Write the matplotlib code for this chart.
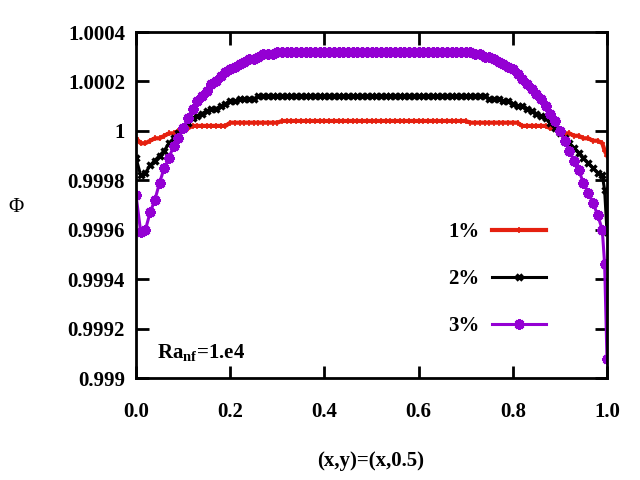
import numpy as np
import matplotlib
matplotlib.use("Agg")
import matplotlib.pyplot as plt

# x positions along the line y=0.5
x = [0.00, 0.01, 0.02, 0.03, 0.04, 0.05, 0.06, 0.07, 0.08, 0.09,
     0.10, 0.11, 0.12, 0.13, 0.14, 0.15, 0.16, 0.17, 0.18, 0.19,
     0.20, 0.21, 0.22, 0.23, 0.24, 0.25, 0.26, 0.27, 0.28, 0.29,
     0.30, 0.31, 0.32, 0.33, 0.34, 0.35, 0.36, 0.37, 0.38, 0.39,
     0.40, 0.41, 0.42, 0.43, 0.44, 0.45, 0.46, 0.47, 0.48, 0.49,
     0.50, 0.51, 0.52, 0.53, 0.54, 0.55, 0.56, 0.57, 0.58, 0.59,
     0.60, 0.61, 0.62, 0.63, 0.64, 0.65, 0.66, 0.67, 0.68, 0.69,
     0.70, 0.71, 0.72, 0.73, 0.74, 0.75, 0.76, 0.77, 0.78, 0.79,
     0.80, 0.81, 0.82, 0.83, 0.84, 0.85, 0.86, 0.87, 0.88, 0.89,
     0.90, 0.91, 0.92, 0.93, 0.94, 0.95, 0.96, 0.97, 0.98, 0.99,
     0.995, 1.00]

# 1 %
phi1 = [0.99997, 0.99995, 0.99995, 0.99996, 0.99997, 0.99997, 0.99998, 0.99999, 0.99999, 1.00000,
        1.00000, 1.00001, 1.00002, 1.00002, 1.00002, 1.00002, 1.00002, 1.00002, 1.00002, 1.00002,
        1.000033, 1.000033, 1.000033, 1.000033, 1.000033, 1.000033, 1.000033, 1.000033, 1.000033, 1.000033,
        1.000033, 1.00004, 1.00004, 1.00004, 1.00004, 1.00004, 1.00004, 1.00004, 1.00004, 1.00004,
        1.00004, 1.00004, 1.00004, 1.00004, 1.00004, 1.00004, 1.00004, 1.00004, 1.00004, 1.00004,
        1.00004, 1.00004, 1.00004, 1.00004, 1.00004, 1.00004, 1.00004, 1.00004, 1.00004, 1.00004,
        1.00004, 1.00004, 1.00004, 1.00004, 1.00004, 1.00004, 1.00004, 1.00004, 1.00004, 1.00004,
        1.00004, 1.000033, 1.000033, 1.000033, 1.000033, 1.000033, 1.000033, 1.000033, 1.000033, 1.000033,
        1.000033, 1.000033, 1.00002, 1.00002, 1.00002, 1.00002, 1.00002, 1.00002, 1.00001, 1.00001,
        1.00000, 0.99999, 0.99999, 0.99998, 0.99998, 0.99997, 0.99997, 0.99996, 0.99996, 0.99995,
        0.99992, 0.99990]

# 2 %
phi2 = [0.99989, 0.99982, 0.99983, 0.99986, 0.99988, 0.99990, 0.99992, 0.99995, 0.99997, 0.99999,
        1.00001, 1.00003, 1.00005, 1.00006, 1.00007, 1.00008, 1.00009, 1.00009, 1.00010, 1.00011,
        1.00012, 1.00012, 1.00013, 1.00013, 1.00013, 1.00013, 1.00014, 1.00014, 1.00014, 1.00014,
        1.00014, 1.00014, 1.00014, 1.00014, 1.00014, 1.00014, 1.00014, 1.00014, 1.00014, 1.00014,
        1.00014, 1.00014, 1.00014, 1.00014, 1.00014, 1.00014, 1.00014, 1.00014, 1.00014, 1.00014,
        1.00014, 1.00014, 1.00014, 1.00014, 1.00014, 1.00014, 1.00014, 1.00014, 1.00014, 1.00014,
        1.00014, 1.00014, 1.00014, 1.00014, 1.00014, 1.00014, 1.00014, 1.00014, 1.00014, 1.00014,
        1.00014, 1.00014, 1.00014, 1.00014, 1.00014, 1.00013, 1.00013, 1.00013, 1.00012, 1.00012,
        1.00011, 1.00010, 1.00010, 1.00009, 1.00008, 1.00007, 1.00006, 1.00005, 1.00003, 1.00001,
        0.99999, 0.99997, 0.99995, 0.99993, 0.99991, 0.99989, 0.99987, 0.99985, 0.99983, 0.99982,
        0.99976, 0.99959]

# 3 %
phi3 = [0.99974, 0.99959, 0.99960, 0.99967, 0.99972, 0.99979, 0.99985, 0.99989, 0.99994, 0.99997,
        1.00001, 1.00005, 1.00009, 1.00012, 1.00014, 1.00016, 1.00019, 1.00020, 1.00022, 1.00024,
        1.00025, 1.00026, 1.00027, 1.00028, 1.00029, 1.00029, 1.00030, 1.00031, 1.00031, 1.00031,
        1.00032, 1.00032, 1.00032, 1.00032, 1.00032, 1.00032, 1.00032, 1.00032, 1.00032, 1.00032,
        1.00032, 1.00032, 1.00032, 1.00032, 1.00032, 1.00032, 1.00032, 1.00032, 1.00032, 1.00032,
        1.00032, 1.00032, 1.00032, 1.00032, 1.00032, 1.00032, 1.00032, 1.00032, 1.00032, 1.00032,
        1.00032, 1.00032, 1.00032, 1.00032, 1.00032, 1.00032, 1.00032, 1.00032, 1.00032, 1.00032,
        1.00032, 1.00032, 1.00031, 1.00031, 1.00030, 1.00030, 1.00029, 1.00028, 1.00027, 1.00026,
        1.00025, 1.00023, 1.00021, 1.00019, 1.00017, 1.00015, 1.00013, 1.00010, 1.00007, 1.00004,
        1.00000, 0.99996, 0.99992, 0.99988, 0.99984, 0.99979, 0.99975, 0.99971, 0.99966, 0.99960,
        0.99946, 0.999075]

labels = ["1%", "2%", "3%"]
xticks = [0.0, 0.2, 0.4, 0.6, 0.8, 1.0]
xticklabels = ["0.0", "0.2", "0.4", "0.6", "0.8", "1.0"]
yticks = [0.999, 0.9992, 0.9994, 0.9996, 0.9998, 1.0, 1.0002, 1.0004]
yticklabels = ["0.999", "0.9992", "0.9994", "0.9996", "0.9998", "1", "1.0002", "1.0004"]

plt.rcParams["font.family"] = "Liberation Serif"
plt.rcParams["font.weight"] = "bold"
plt.rcParams["mathtext.fontset"] = "custom"
plt.rcParams["mathtext.rm"] = "Liberation Serif:bold"
plt.rcParams["mathtext.bf"] = "Liberation Serif:bold"

fig = plt.figure(figsize=(6.4, 4.8), dpi=100)
ax = fig.add_axes([136 / 640, 1 - 378 / 480, 471 / 640, 346 / 480])

ax.plot(x, phi1, color="#e5200f", lw=3, marker="+", ms=5, mew=1.2, label=labels[0])
ax.plot(x, phi2, color="black", lw=2.2, marker="x", ms=5, mew=2.4, label=labels[1])
ax.plot(x, phi3, color="#9400d3", lw=2.2, marker=(8, 2, 0), ms=7.5, mew=2.2, label=labels[2])

ax.set_xlim(0, 1)
ax.set_ylim(0.999, 1.0004)
ax.set_xticks(xticks)
ax.set_xticklabels(xticklabels)
ax.set_yticks(yticks)
ax.set_yticklabels(yticklabels)
ax.tick_params(direction="in", length=9, width=2, top=True, right=True, labelsize=15)
ax.tick_params(axis="x", pad=17)
ax.tick_params(axis="y", pad=8)
for s in ax.spines.values():
    s.set_linewidth(2)

fig.text(371 / 640, 1 - 461 / 480, "(x,y)=(x,0.5)", ha="center", va="center", fontsize=15)
fig.text(16 / 640, 1 - 207 / 480, "Φ", ha="center", va="center", fontsize=15, fontweight="normal")
ax.text(0.045, 0.073, r"Ra$_{\mathrm{nf}}$=1.e4", transform=ax.transAxes, fontsize=15, va="center")

ax.legend(loc="upper right", bbox_to_anchor=(0.911, 0.505), frameon=False, markerfirst=False,
          numpoints=1, handlelength=2.6, handletextpad=0.62, labelspacing=1.3, fontsize=15)

fig.savefig("out.png", dpi=100)
